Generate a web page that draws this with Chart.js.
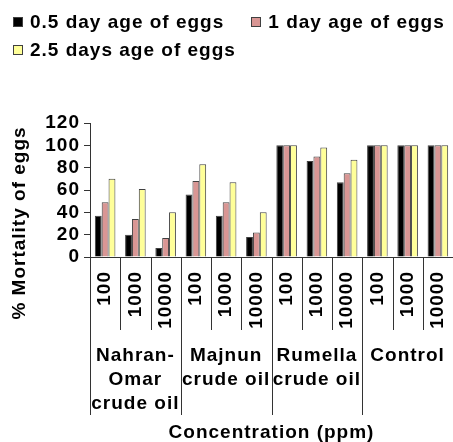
<!DOCTYPE html>
<html>
<head>
<meta charset="utf-8">
<script src="https://cdn.jsdelivr.net/npm/chart.js@4.4.1/dist/chart.umd.min.js"></script>
<style>
  body { margin: 0; background: #fff; }
  #wrap { position: relative; width: 453px; height: 442px; }
  #legend {
    position: absolute; left: 13px; top: 8px; width: 440px;
    display: flex; flex-wrap: wrap; column-gap: 27px;
    font: bold 19px "Liberation Sans", Arial, sans-serif;
    letter-spacing: 1px; line-height: 28px; color: #000;
  }
  .item { display: flex; align-items: center; white-space: nowrap; }
  .box { width: 10px; height: 10px; box-sizing: border-box; border: 1px solid #404040; margin-right: 7px; }
  canvas { display: block; }
</style>
</head>
<body>
<div id="wrap">
  <div id="legend"></div>
  <canvas id="chart" width="453" height="442"></canvas>
</div>
<script>
var concentrations = ["100", "1000", "10000"];
var groups = [["Nahran-", "Omar", "crude oil"], ["Majnun", "crude oil"], ["Rumella", "crude oil"], ["Control"]];
var seriesNames = ["0.5 day age of eggs", "1 day age of eggs", "2.5 days age of eggs"];
var seriesColors = ["#000000", "#D99694", "#FFFF99"];
var halfDay = [37, 20, 8, 56, 37, 18, 100, 86, 67, 100, 100, 100];
var oneDay = [49, 34, 17, 68, 49, 22, 100, 90, 75, 100, 100, 100];
var twoHalfDays = [70, 61, 40, 83, 67, 40, 100, 98, 87, 100, 100, 100];
var yTitle = "% Mortality of eggs";
var xTitle = "Concentration (ppm)";

var fontFamily = "'Liberation Sans', Arial, sans-serif";
var labels = [];
groups.forEach(function () {
    concentrations.forEach(function (c) { labels.push(c); });
});

// lineas separadoras, nombres de grupo y titulo del eje y
var extrasPlugin = {
    id: "extras",
    beforeUpdate: function (chart) { chart.ctx.letterSpacing = "1px"; },
    beforeDraw: function (chart) { chart.ctx.letterSpacing = "1px"; },
    afterDraw: function (chart) {
        var ctx = chart.ctx;
        var x = chart.scales.x;
        var bottom = chart.chartArea.bottom;
        var n = labels.length;

        function edge(i) {
            if (i === 0) return x.left;
            if (i === n) return x.right;
            return (x.getPixelForValue(i - 1) + x.getPixelForValue(i)) / 2;
        }

        ctx.save();
        ctx.strokeStyle = "#333";
        ctx.lineWidth = 1;
        for (var i = 0; i < n; i++) {
            var px = Math.round(edge(i)) + 0.5;
            var len = i % concentrations.length === 0 ? 158 : 73;
            ctx.beginPath();
            ctx.moveTo(px, bottom);
            ctx.lineTo(px, bottom + len);
            ctx.stroke();
        }

        ctx.fillStyle = "#000";
        ctx.font = "bold 19px " + fontFamily;
        ctx.textAlign = "center";
        ctx.textBaseline = "middle";
        groups.forEach(function (lines, g) {
            var cx = (edge(g * 3) + edge(g * 3 + 3)) / 2;
            lines.forEach(function (t, k) {
                ctx.fillText(t, cx, bottom + 99 + k * 24);
            });
        });

        ctx.translate(20, 223);
        ctx.rotate(-Math.PI / 2);
        ctx.fillText(yTitle, 0, 0);
        ctx.restore();
    }
};

var ctx = document.getElementById("chart").getContext("2d");
var chart = new Chart(ctx, {
    type: "bar",
    data: {
        labels: labels,
        datasets: [
            { label: seriesNames[0], data: halfDay, backgroundColor: seriesColors[0] },
            { label: seriesNames[1], data: oneDay, backgroundColor: seriesColors[1] },
            { label: seriesNames[2], data: twoHalfDays, backgroundColor: seriesColors[2] }
        ]
    },
    options: {
        responsive: false,
        animation: false,
        layout: { padding: { top: 123, left: 0, right: 0, bottom: 0 } },
        datasets: {
            bar: { categoryPercentage: 0.68, barPercentage: 1, borderColor: "#404040", borderWidth: 1 }
        },
        plugins: {
            legend: { display: false },
            tooltip: { enabled: false }
        },
        scales: {
            x: {
                offset: true,
                grid: { display: false, drawTicks: false },
                border: { display: true, color: "#333" },
                ticks: {
                    autoSkip: false, minRotation: 90, maxRotation: 90, padding: 14,
                    color: "#000", font: { family: fontFamily, size: 19, weight: "bold" }
                },
                title: {
                    display: true, text: xTitle, color: "#000", padding: 0,
                    font: { family: fontFamily, size: 19, weight: "bold", lineHeight: 1 }
                },
                afterFit: function (scale) {
                    scale.height = 185;
                    scale.paddingLeft = 0;
                    scale.paddingRight = 0;
                }
            },
            y: {
                min: 0, max: 120,
                grid: { drawOnChartArea: false, tickLength: 6, color: "#333" },
                border: { color: "#333" },
                ticks: {
                    stepSize: 20, autoSkip: false, padding: 4, color: "#000",
                    font: { family: fontFamily, size: 19, weight: "bold" }
                },
                afterFit: function (scale) {
                    scale.width = 90;
                    scale.paddingTop = 0;
                    scale.paddingBottom = 0;
                }
            }
        }
    },
    plugins: [extrasPlugin]
});

// leyenda en html
var legend = document.getElementById("legend");
chart.data.datasets.forEach(function (ds) {
    var item = document.createElement("div");
    item.className = "item";
    var box = document.createElement("span");
    box.className = "box";
    box.style.background = ds.backgroundColor;
    var text = document.createElement("span");
    text.textContent = ds.label;
    item.appendChild(box);
    item.appendChild(text);
    legend.appendChild(item);
});
</script>
</body>
</html>
